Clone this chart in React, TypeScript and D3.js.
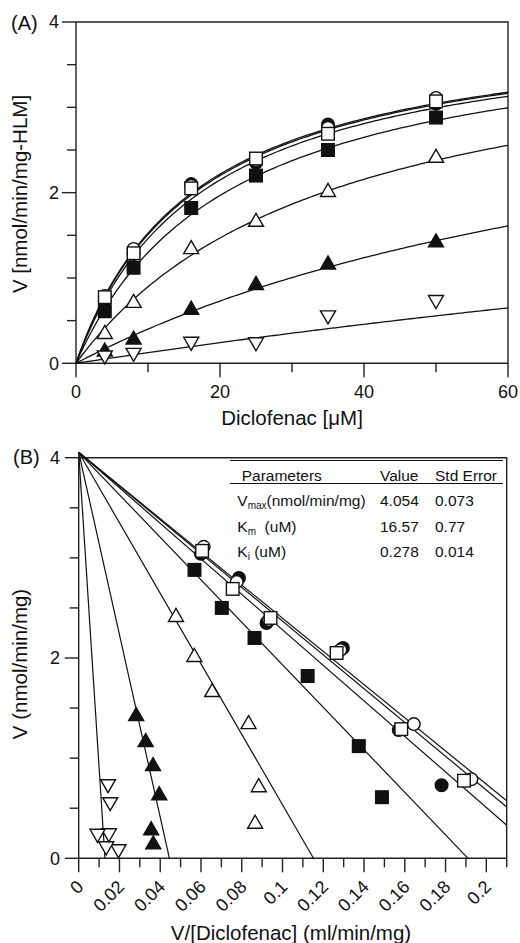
import React, { useEffect, useRef } from "react";
import * as d3 from "d3";

// kinetic fit parameters (shown in the table of panel B)
const vmax = 4.054;
const km = 16.57;
const ki = 0.278;

// diclofenac concentrations (uM): nominal (panel A) and as plotted in panel B
const substrate = [4, 8, 16, 25, 35, 50];
const substrateMeasured = [4.1, 8.15, 16.2, 25.5, 35.6, 50.7];

// inhibitor concentrations, one per series (uM)
const inhibitor = [0, 0.0049, 0.0195, 0.078, 0.3125, 1.25, 5];
const markers = ["circle-filled", "circle-open", "square-open", "square-filled", "triangle-open", "triangle-filled", "tridown-open"];

// measured rates V (nmol/min/mg) at each substrate concentration
const rateFilledCircle = [0.73, 1.28, 2.1, 2.35, 2.8, 3.04];
const rateOpenCircle = [0.79, 1.34, 2.08, 2.38, 2.76, 3.11];
const rateOpenSquare = [0.775, 1.29, 2.05, 2.4, 2.69, 3.07];
const rateFilledSquare = [0.61, 1.12, 1.82, 2.2, 2.5, 2.88];
const rateOpenTriangle = [0.355, 0.72, 1.35, 1.67, 2.02, 2.42];
const rateFilledTriangle = [0.15, 0.29, 0.64, 0.93, 1.17, 1.43];
const rateDownTriangle = [0.08, 0.11, 0.24, 0.235, 0.55, 0.73];

const rates = [
  rateFilledCircle,
  rateOpenCircle,
  rateOpenSquare,
  rateFilledSquare,
  rateOpenTriangle,
  rateFilledTriangle,
  rateDownTriangle,
];

// axis ticks
const aYTicks = [0, 0.5, 1, 1.5, 2, 2.5, 3, 3.5, 4];
const aYLabels = ["0", "2", "4"];
const aXTicks = [0, 10, 20, 30, 40, 50, 60];
const aXLabels = ["0", "20", "40", "60"];
const bYTicks = [0, 0.5, 1, 1.5, 2, 2.5, 3, 3.5, 4];
const bYLabels = ["0", "2", "4"];
const bXTicks = [0, 0.01, 0.02, 0.03, 0.04, 0.05, 0.06, 0.07, 0.08, 0.09, 0.1, 0.11, 0.12, 0.13, 0.14, 0.15, 0.16, 0.17, 0.18, 0.19, 0.2, 0.21];
const bXLabels = ["0", "0.02", "0.04", "0.06", "0.08", "0.1", "0.12", "0.14", "0.16", "0.18", "0.2"];

// parameter table
const tableHead = ["Parameters", "Value", "Std Error"];
const paramNames = ["V", "K", "K"];
const paramSubs = ["max", "m", "i"];
const paramUnits = ["(nmol/min/mg)", "  (uM)", " (uM)"];
const paramValues = ["4.054", "16.57", "0.278"];
const paramErrors = ["0.073", "0.77", "0.014"];

const FONT = "'Liberation Sans', Arial, Helvetica, sans-serif";
const INK = "#111";

type G = d3.Selection<SVGGElement, unknown, null, undefined>;

const drawMarker = (g: G, kind: string, x: number, y: number) => {
  const filled = kind.endsWith("filled");
  let p: d3.Selection<any, unknown, null, undefined>;
  if (kind.startsWith("circle")) {
    p = g.append("circle").attr("cx", x).attr("cy", y).attr("r", 6.3);
  } else if (kind.startsWith("square")) {
    p = g.append("rect").attr("x", x - 6.3).attr("y", y - 6.3).attr("width", 12.6).attr("height", 12.6);
  } else if (kind.startsWith("triangle")) {
    p = g.append("path").attr("d", `M${x},${y - 7.5}L${x + 7.5},${y + 5.5}L${x - 7.5},${y + 5.5}Z`);
  } else {
    p = g.append("path").attr("d", `M${x},${y + 7.5}L${x + 7.5},${y - 5.5}L${x - 7.5},${y - 5.5}Z`);
  }
  p.attr("fill", filled ? INK : "#fff").attr("stroke", INK).attr("stroke-width", 1.4);
};

const drawFrame = (
  g: G,
  x: d3.ScaleLinear<number, number>,
  y: d3.ScaleLinear<number, number>,
  xTicks: number[],
  yTicks: number[],
  xMajor: (v: number) => boolean,
  yMajor: (v: number) => boolean
) => {
  const [x0, x1] = x.range();
  const [y0, y1] = y.range();
  const frame = g.append("g").attr("stroke", "#222").attr("stroke-width", 1.4).attr("fill", "none");
  frame.append("path").attr("d", `M${x0},${y0}L${x0},${y1}L${x1},${y1}L${x1},${y0}L${x0},${y0}`);
  yTicks.forEach((v) => {
    const len = yMajor(v) ? 14 : 9;
    frame.append("line").attr("x1", x0 - len).attr("x2", x0).attr("y1", y(v)).attr("y2", y(v));
  });
  xTicks.forEach((v) => {
    const len = xMajor(v) ? 14 : 9;
    frame.append("line").attr("x1", x(v)).attr("x2", x(v)).attr("y1", y0).attr("y2", y0 + len);
  });
};

const App = () => {
  const ref = useRef<SVGSVGElement>(null);

  useEffect(() => {
    if (!ref.current) return;
    const svg = d3.select(ref.current);
    svg.selectAll("*").remove();

    // ---------------- panel A: Michaelis-Menten ----------------
    const xa = d3.scaleLinear().domain([0, 60]).range([76, 508]);
    const ya = d3.scaleLinear().domain([0, 4]).range([363.3, 22]);
    const ga = svg.append("g") as unknown as G;

    drawFrame(ga, xa, ya, aXTicks, aYTicks, (v) => v % 20 === 0, (v) => v % 2 === 0);

    inhibitor.forEach((inh) => {
      const kapp = km * (1 + inh / ki);
      const line = d3
        .line<number>()
        .x((s) => xa(s))
        .y((s) => ya((vmax * s) / (kapp + s)));
      ga.append("path")
        .attr("d", line(d3.range(0, 60.001, 0.5)))
        .attr("fill", "none")
        .attr("stroke", INK)
        .attr("stroke-width", 1.3);
    });

    rates.forEach((vals, i) => {
      vals.forEach((v, j) => drawMarker(ga, markers[i], xa(substrate[j]), ya(v)));
    });

    ga.selectAll("text.yt")
      .data(aYLabels)
      .join("text")
      .attr("x", 59)
      .attr("y", (d) => ya(+d))
      .attr("dy", "0.35em")
      .attr("text-anchor", "end")
      .attr("font-size", 18)
      .text((d) => d);
    ga.selectAll("text.xt")
      .data(aXLabels)
      .join("text")
      .attr("x", (d) => xa(+d))
      .attr("y", 398)
      .attr("text-anchor", "middle")
      .attr("font-size", 18)
      .text((d) => d);
    ga.append("text").attr("x", 11).attr("y", 30).attr("font-size", 20).text("(A)");
    ga.append("text")
      .attr("x", 292)
      .attr("y", 425)
      .attr("text-anchor", "middle")
      .attr("font-size", 20.5)
      .text("Diclofenac [\u03bcM]");
    ga.append("text")
      .attr("transform", `translate(27,194) rotate(-90)`)
      .attr("text-anchor", "middle")
      .attr("font-size", 20.5)
      .text("V [nmol/min/mg-HLM]");

    // ---------------- panel B: Eadie-Hofstee ----------------
    const xb = d3.scaleLinear().domain([0, 0.21]).range([78.7, 506.7]);
    const yb = d3.scaleLinear().domain([0, 4]).range([858.3, 457.7]);
    const gb = svg.append("g") as unknown as G;

    drawFrame(
      gb,
      xb,
      yb,
      bXTicks,
      bYTicks,
      (v) => Math.round(v * 100) % 2 === 0,
      (v) => v % 2 === 0
    );

    inhibitor.forEach((inh) => {
      const kapp = km * (1 + inh / ki);
      const xEnd = Math.min(vmax / kapp, 0.21);
      gb.append("line")
        .attr("x1", xb(0))
        .attr("y1", yb(vmax))
        .attr("x2", xb(xEnd))
        .attr("y2", yb(vmax - kapp * xEnd))
        .attr("stroke", INK)
        .attr("stroke-width", 1.2);
    });

    rates.forEach((vals, i) => {
      vals.forEach((v, j) => drawMarker(gb, markers[i], xb(v / substrateMeasured[j]), yb(v)));
    });

    gb.selectAll("text.yt")
      .data(bYLabels)
      .join("text")
      .attr("x", 60)
      .attr("y", (d) => yb(+d))
      .attr("dy", "0.35em")
      .attr("text-anchor", "end")
      .attr("font-size", 18)
      .text((d) => d);
    gb.selectAll("text.xt")
      .data(bXLabels)
      .join("text")
      .attr("transform", (d) => `translate(${xb(+d) + 6},888) rotate(-45)`)
      .attr("text-anchor", "end")
      .attr("font-size", 18)
      .text((d) => d);
    gb.append("text").attr("x", 13).attr("y", 464).attr("font-size", 20).text("(B)");
    gb.append("text")
      .attr("x", 291)
      .attr("y", 940)
      .attr("text-anchor", "middle")
      .attr("font-size", 20.5)
      .text("V/[Diclofenac] (ml/min/mg)");
    gb.append("text")
      .attr("transform", `translate(27,664) rotate(-90)`)
      .attr("text-anchor", "middle")
      .attr("font-size", 20.5)
      .text("V (nmol/min/mg)");

    // parameter table
    const tb = gb.append("g").attr("font-size", 15.5);
    tb.append("line").attr("x1", 230).attr("x2", 503).attr("y1", 460.5).attr("y2", 460.5).attr("stroke", INK).attr("stroke-width", 1.2);
    tb.append("line").attr("x1", 230).attr("x2", 503).attr("y1", 483.5).attr("y2", 483.5).attr("stroke", INK).attr("stroke-width", 1.2);
    const colX = [241.7, 380, 435];
    tableHead.forEach((h, i) => {
      tb.append("text").attr("x", colX[i]).attr("y", 480.5).text(h);
    });
    const rowY = [505.7, 531.5, 556.5];
    paramNames.forEach((name, i) => {
      const t = tb.append("text").attr("x", 237.3).attr("y", rowY[i]).attr("xml:space", "preserve");
      t.append("tspan").text(name);
      t.append("tspan").attr("font-size", 10).attr("dy", 3).text(paramSubs[i]);
      t.append("tspan").attr("dy", -3).text(paramUnits[i]);
      tb.append("text").attr("x", 380).attr("y", rowY[i]).text(paramValues[i]);
      tb.append("text").attr("x", 435).attr("y", rowY[i]).text(paramErrors[i]);
    });
  }, []);

  return (
    <svg
      ref={ref}
      width={520}
      height={943}
      style={{ position: "absolute", left: 0, top: 0, background: "#fff" }}
      fontFamily={FONT}
      fill={INK}
    />
  );
};

export default App;
